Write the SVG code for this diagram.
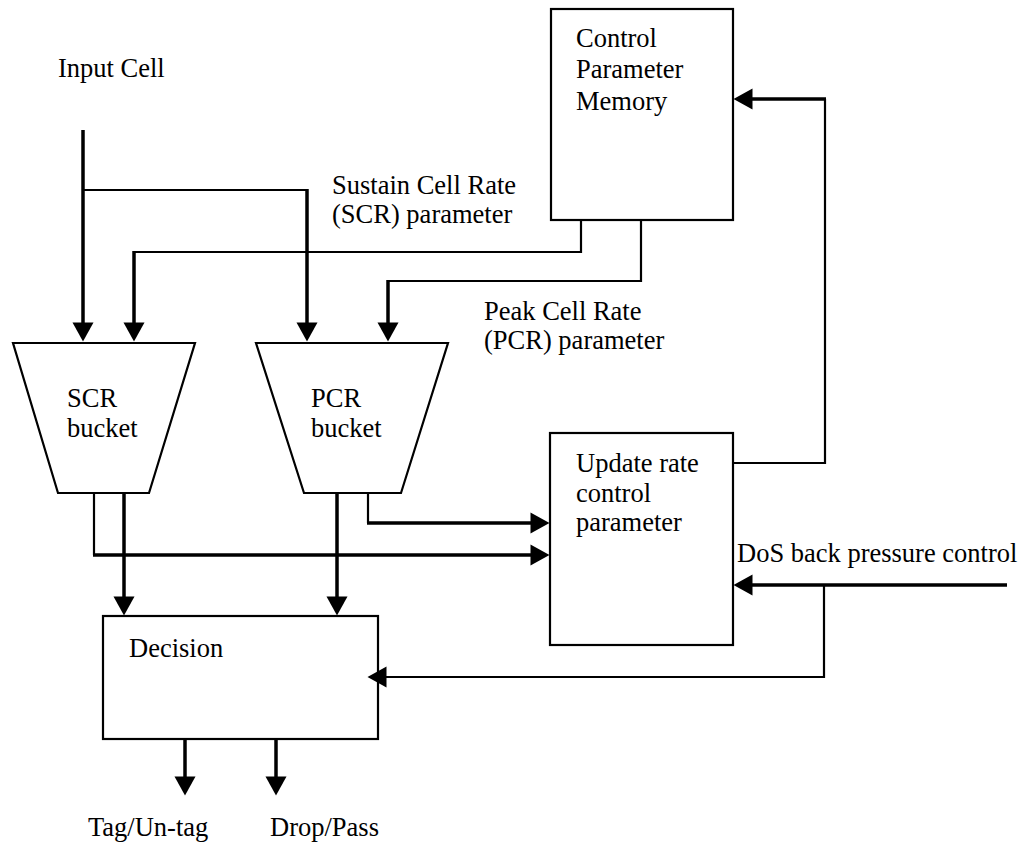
<svg xmlns="http://www.w3.org/2000/svg" width="1026" height="844" viewBox="0 0 1026 844">
  <style>
    text { font-family: "Liberation Serif", "Times New Roman", serif; font-size: 26.5px; fill: #000; }
    .box { fill: #fff; stroke: #000; stroke-width: 2.2; }
    .thick { fill: none; stroke: #000; stroke-width: 3.5; }
    .thin { fill: none; stroke: #000; stroke-width: 2.2; }
    .arr { marker-end: url(#head); }
  </style>
  <defs>
    <marker id="head" markerUnits="userSpaceOnUse" markerWidth="20" markerHeight="21" refX="0.5" refY="10.5" orient="auto" overflow="visible">
      <path d="M0,0 L19,10.5 L0,21 z" fill="#000"/>
    </marker>
  </defs>
  <rect width="1026" height="844" fill="#fff"/>

  <!-- free labels -->
  <g id="labels">
    <text x="58" y="77">Input Cell</text>
    <text x="332" y="194">Sustain Cell Rate</text>
    <text x="332" y="223">(SCR) parameter</text>
    <text x="484" y="320">Peak Cell Rate</text>
    <text x="484" y="349">(PCR) parameter</text>
    <text x="737" y="562">DoS back pressure control</text>
    <text x="88" y="836">Tag/Un-tag</text>
    <text x="270" y="836">Drop/Pass</text>
  </g>

  <g id="memory">
    <rect class="box" x="551" y="9" width="182" height="211"/>
    <text x="576" y="47">Control</text>
    <text x="576" y="78">Parameter</text>
    <text x="576" y="110">Memory</text>
  </g>

  <g id="scr-bucket">
    <polygon class="box" points="13,343 195,343 149,493 58,493"/>
    <text x="67" y="407">SCR</text>
    <text x="67" y="437">bucket</text>
  </g>

  <g id="pcr-bucket">
    <polygon class="box" points="256,343 448,343 401,493 304,493"/>
    <text x="311" y="407">PCR</text>
    <text x="311" y="437">bucket</text>
  </g>

  <g id="update">
    <rect class="box" x="550" y="433" width="183" height="212"/>
    <text x="576" y="472">Update rate</text>
    <text x="576" y="502">control</text>
    <text x="576" y="531">parameter</text>
  </g>

  <g id="decision">
    <rect class="box" x="103" y="616" width="275" height="123"/>
    <text x="129" y="657">Decision</text>
  </g>

  <!-- connectors, drawn last so arrowheads sit on top of the boxes -->
  <g id="connectors">
    <!-- input cell feed -->
    <path class="thick arr" d="M83,130 V323"/>
    <path class="thin" d="M83,190 H307"/>
    <path class="thick arr" d="M307,189 V323"/>
    <!-- SCR parameter from memory -->
    <path class="thin" d="M581,220 V252 H134"/>
    <path class="thick arr" d="M134,251 V323"/>
    <!-- PCR parameter from memory -->
    <path class="thin" d="M641,220 V281 H388"/>
    <path class="thick arr" d="M388,280 V323"/>
    <!-- SCR bucket outputs -->
    <path class="thin" d="M94,493 V555"/>
    <path class="thick arr" d="M93,555 H531"/>
    <path class="thick arr" d="M124,493 V597"/>
    <!-- PCR bucket outputs -->
    <path class="thick arr" d="M337,493 V597"/>
    <path class="thin" d="M368,493 V523"/>
    <path class="thick arr" d="M367,523 H531"/>
    <!-- update feedback to memory -->
    <path class="thin" d="M733,463 H825 V99"/>
    <path class="thick arr" d="M826,99 H752"/>
    <!-- DoS back pressure -->
    <path class="thick arr" d="M1007,585 H752"/>
    <path class="thin arr" d="M824,585 V677 H386"/>
    <!-- decision outputs -->
    <path class="thick arr" d="M185,739 V777"/>
    <path class="thick arr" d="M276,739 V777"/>
  </g>
</svg>
